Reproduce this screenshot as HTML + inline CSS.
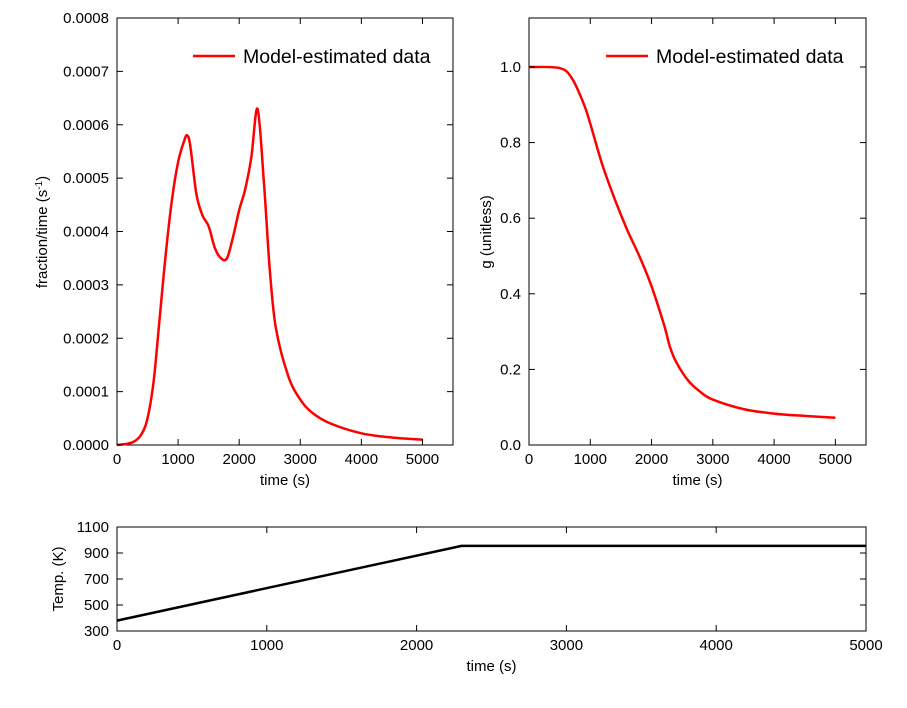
<!DOCTYPE html>
<html><head><meta charset="utf-8"><style>
body{margin:0;background:#fff}
svg text{font-family:"Liberation Sans",sans-serif;fill:#000}
</style></head><body>
<svg id="fig" width="907" height="703" xmlns="http://www.w3.org/2000/svg"></svg>
<script>
const fracT=[0,200,300,400,500,600,700,800,900,1000,1100,1150,1200,1300,1400,1500,1600,1700,1800,1900,2000,2100,2200,2300,2400,2500,2600,2800,3000,3200,3500,4000,4500,5000];
const fracV=[0,0.000003,0.000008,0.00002,0.00005,0.00012,0.00024,0.00036,0.00046,0.00053,0.00057,0.00058,0.00056,0.00047,0.00043,0.00041,0.00037,0.00035,0.00035,0.00039,0.00044,0.00048,0.00054,0.00063,0.0005,0.00033,0.00022,0.00013,0.000085,0.00006,0.00004,0.000022,0.000014,0.00001];
const gT=[0,500,700,900,1000,1200,1400,1600,1800,2000,2200,2300,2400,2600,2800,3000,3500,4000,4500,5000];
const gV=[1.0,0.997,0.97,0.9,0.85,0.74,0.65,0.57,0.5,0.42,0.32,0.26,0.22,0.17,0.14,0.12,0.095,0.083,0.077,0.072];
const tempT=[0,2300,5000];
const tempV=[380,955,955];
const xTicks=[0,1000,2000,3000,4000,5000];
const fracTicks=["0.0000","0.0001","0.0002","0.0003","0.0004","0.0005","0.0006","0.0007","0.0008"];
const gTicks=["0.0","0.2","0.4","0.6","0.8","1.0"];
const tempTicks=[300,500,700,900,1100];
const svg=document.getElementById('fig');
const NS='http://www.w3.org/2000/svg';
function mk(tag,at,parent){const e=document.createElementNS(NS,tag);for(const k in at)e.setAttribute(k,at[k]);(parent||svg).appendChild(e);return e;}
function axes(name,x0,x1,y0,y1,xmin,xmax,ymin,ymax){
  const g=mk('g',{});
  
  
  mk('rect',{x:x0,y:y0,width:x1-x0,height:y1-y0,fill:'none',stroke:'#000','stroke-width':1},g);
  return {g,sx:v=>x0+(v-xmin)/(xmax-xmin)*(x1-x0),sy:v=>y1-(v-ymin)/(ymax-ymin)*(y1-y0),x0,x1,y0,y1};
}
function xt(a,vals,lab){
  vals.forEach(v=>{const x=a.sx(v);
    mk('line',{x1:x,x2:x,y1:a.y1,y2:a.y1-6,stroke:'#000'},a.g);mk('line',{x1:x,x2:x,y1:a.y0,y2:a.y0+6,stroke:'#000'},a.g);
    const t=mk('text',{x:x,y:a.y1+19,'text-anchor':'middle','font-size':15},a.g);t.textContent=v;
    
    });
  const t=mk('text',{x:(a.x0+a.x1)/2,y:a.y1+40,'text-anchor':'middle','font-size':15},a.g);t.textContent=lab;
  
  
}
function yt(a,vals,labels){
  vals.forEach((v,i)=>{const y=a.sy(v);
    mk('line',{x1:a.x0,x2:a.x0+6,y1:y,y2:y,stroke:'#000'},a.g);mk('line',{x1:a.x1,x2:a.x1-6,y1:y,y2:y,stroke:'#000'},a.g);
    const t=mk('text',{x:a.x0-8,y:y+5,'text-anchor':'end','font-size':15},a.g);t.textContent=labels[i];
    
    });
}
function line(a,xs,ys,col,name,smooth){
  const P=xs.map((x,i)=>[a.sx(x),a.sy(ys[i])]);
  let d='M'+P[0][0].toFixed(1)+','+P[0][1].toFixed(1);
  for(let i=0;i<P.length-1;i++){
    if(!smooth){d+='L'+P[i+1][0].toFixed(1)+','+P[i+1][1].toFixed(1);continue;}
    const p0=P[Math.max(0,i-1)],p1=P[i],p2=P[i+1],p3=P[Math.min(P.length-1,i+2)];
    const c1=[p1[0]+(p2[0]-p0[0])/6,p1[1]+(p2[1]-p0[1])/6],c2=[p2[0]-(p3[0]-p1[0])/6,p2[1]-(p3[1]-p1[1])/6];
    d+='C'+c1.map(v=>v.toFixed(1)).join(',')+' '+c2.map(v=>v.toFixed(1)).join(',')+' '+p2.map(v=>v.toFixed(1)).join(',');
  }
  const p=mk('path',{d:d,fill:'none',stroke:col,'stroke-width':2.5,'stroke-linejoin':'round'},a.g);
  
  
}
function legend(a,x){
  const g=mk('g',{},a.g);
  
  
  mk('line',{x1:x,x2:x+42,y1:56,y2:56,stroke:'red','stroke-width':2.5},g);
  const t=mk('text',{x:x+50,y:63,'font-size':19.5},g);t.textContent='Model-estimated data';
}
const a1=axes('fraction-rate-plot',117,453,18,445,0,5500,0,0.0008);
line(a1,fracT,fracV,'red','fraction-rate-line',true);
xt(a1,xTicks,'time (s)');
yt(a1,fracTicks.map(Number),fracTicks);
legend(a1,193);
let yl=mk('text',{transform:'translate(47,232) rotate(-90)','text-anchor':'middle','font-size':15},a1.g);
yl.innerHTML='fraction/time (s<tspan dy="-5" font-size="10">-1</tspan><tspan dy="5">)</tspan>';


const a2=axes('g-plot',529,866,18,445,0,5500,0,1.1296);
line(a2,gT,gV,'red','g-line',true);
xt(a2,xTicks,'time (s)');
yt(a2,gTicks.map(Number),gTicks);
legend(a2,606);
yl=mk('text',{transform:'translate(491,232) rotate(-90)','text-anchor':'middle','font-size':15},a2.g);yl.textContent='g (unitless)';


const a3=axes('temperature-plot',117,866,527,631,0,5000,300,1100);
line(a3,tempT,tempV,'#000','temperature-line',false);
xt(a3,xTicks,'time (s)');
yt(a3,tempTicks,tempTicks.map(String));
yl=mk('text',{transform:'translate(63,579) rotate(-90)','text-anchor':'middle','font-size':15},a3.g);yl.textContent='Temp. (K)';


</script>
</body></html>
